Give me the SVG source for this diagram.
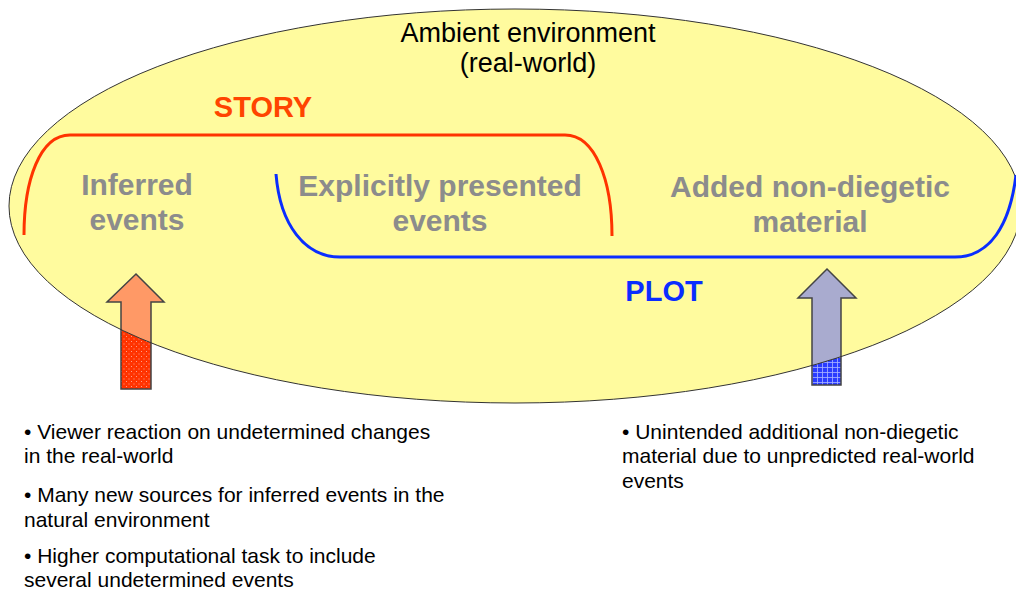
<svg xmlns="http://www.w3.org/2000/svg" width="1016" height="590" viewBox="0 0 1016 590">
<style>
  .lbl{font-family:"Liberation Sans",Arial,sans-serif;fill:#000;}
  .amb{font-size:27px;text-anchor:middle;}
  .grey{font-size:30px;font-weight:bold;fill:#8c8c8c;text-anchor:middle;}
  .title{font-size:29px;font-weight:bold;text-anchor:middle;}
  .bul{font-size:21px;}
  .arrowLine{fill:none;stroke:#444;stroke-width:1.5;}
</style>
<defs>
  <pattern id="redDots" width="5" height="5" patternUnits="userSpaceOnUse">
    <rect width="5" height="5" fill="#ff3300"/>
    <rect x="1" y="1" width="1" height="1" fill="#ff9f8a"/>
    <rect x="3.5" y="3.5" width="1" height="1" fill="#ff9f8a"/>
  </pattern>
  <pattern id="blueGrid" width="5" height="5" patternUnits="userSpaceOnUse">
    <rect width="5" height="5" fill="#2a3cff"/>
    <rect x="0" y="2" width="5" height="0.8" fill="#a9b4ff"/>
    <rect x="2" y="0" width="0.8" height="5" fill="#a9b4ff"/>
  </pattern>
  <clipPath id="ellClip">
    <ellipse cx="515" cy="206" rx="506" ry="197"/>
  </clipPath>
  <path id="arrL" d="M136,274 L164,302 L151,302 L151,389 L121,389 L121,302 L107,302 Z"/>
  <path id="arrR" d="M827,269 L856,298 L841,298 L841,385 L812,385 L812,298 L798,298 Z"/>
</defs>

<g id="connectors">
  <use href="#arrL" fill="url(#redDots)"/>
  <use href="#arrR" fill="url(#blueGrid)"/>
</g>

<g id="ambient">
  <ellipse cx="515" cy="206" rx="506" ry="197" fill="#fffb9e"/>
</g>

<g id="arrows-inside" clip-path="url(#ellClip)">
  <use href="#arrL" fill="#ff9966"/>
  <use href="#arrR" fill="#a9abcf"/>
</g>
<g id="arrow-outlines">
  <use href="#arrL" class="arrowLine"/>
  <use href="#arrR" class="arrowLine"/>
</g>
<g id="ambient-outline">
  <ellipse cx="515" cy="206" rx="506" ry="197" fill="none" stroke="#333" stroke-width="1"/>
  <text class="lbl amb" x="528" y="42">Ambient environment</text>
  <text class="lbl amb" x="528" y="72">(real-world)</text>
</g>

<g id="story">
  <path d="M24,235 C24,180 40,135 70,135 L565,135 C595,135 612,180 612,236" fill="none" stroke="#ff3300" stroke-width="3"/>
  <text class="lbl title" x="263" y="117" style="fill:#ff4400">STORY</text>
</g>

<g id="plot">
  <path d="M276,174 C280,225 305,257 340,257 L955,257 C990,257 1010,225 1016,175" fill="none" stroke="#0a2dff" stroke-width="3"/>
  <text class="lbl title" x="664" y="301" style="fill:#0a2dff">PLOT</text>
</g>

<g id="inferred">
  <text class="lbl grey" x="137" y="195">Inferred</text>
  <text class="lbl grey" x="137" y="230">events</text>
</g>
<g id="explicit">
  <text class="lbl grey" x="440" y="196">Explicitly presented</text>
  <text class="lbl grey" x="440" y="231">events</text>
</g>
<g id="added">
  <text class="lbl grey" x="810" y="197">Added non-diegetic</text>
  <text class="lbl grey" x="810" y="232">material</text>
</g>

<g id="notes-left">
  <text class="lbl bul" x="24" y="439">• Viewer reaction on undetermined changes</text>
  <text class="lbl bul" x="24" y="463">in the real-world</text>
  <text class="lbl bul" x="24" y="502">• Many new sources for inferred events in the</text>
  <text class="lbl bul" x="24" y="527">natural environment</text>
  <text class="lbl bul" x="24" y="563">• Higher computational task to include</text>
  <text class="lbl bul" x="24" y="587">several undetermined events</text>
</g>
<g id="notes-right">
  <text class="lbl bul" x="622" y="439">• Unintended additional non-diegetic</text>
  <text class="lbl bul" x="622" y="463">material due to unpredicted real-world</text>
  <text class="lbl bul" x="622" y="488">events</text>
</g>
</svg>
